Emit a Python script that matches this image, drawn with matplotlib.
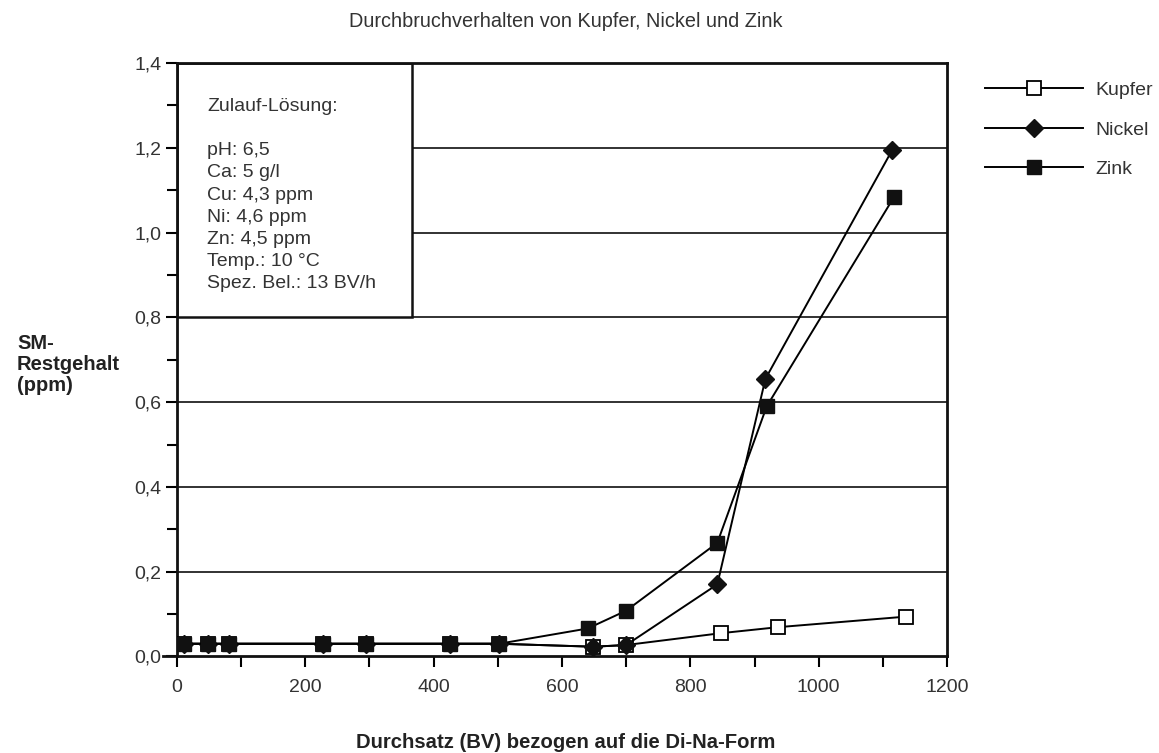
import matplotlib
matplotlib.use('Agg')
from matplotlib import pyplot as plt
from matplotlib.patches import Rectangle
import matplotlib.ticker as mticker

plt.rcParams['font.family'] = ['Liberation Sans', 'DejaVu Sans']

# data
kupfer_x = [11, 48, 81, 227, 294, 426, 502, 649, 700, 848, 936, 1136]
kupfer_y = [0.03, 0.03, 0.03, 0.03, 0.03, 0.03, 0.03, 0.023, 0.027, 0.055, 0.069, 0.094]
nickel_x = [11, 48, 81, 227, 294, 426, 502, 649, 700, 842, 917, 1115]
nickel_y = [0.03, 0.03, 0.03, 0.03, 0.03, 0.03, 0.03, 0.023, 0.027, 0.17, 0.655, 1.196]
zink_x = [11, 48, 81, 227, 294, 426, 502, 640, 700, 842, 919, 1117]
zink_y = [0.03, 0.03, 0.03, 0.03, 0.03, 0.03, 0.03, 0.066, 0.108, 0.268, 0.59, 1.083]

box_lines = ['Zulauf-Lösung:', '', 'pH: 6,5', 'Ca: 5 g/l', 'Cu: 4,3 ppm', 'Ni: 4,6 ppm',
             'Zn: 4,5 ppm', 'Temp.: 10 °C', 'Spez. Bel.: 13 BV/h']

title = 'Durchbruchverhalten von Kupfer, Nickel und Zink'
xlabel = 'Durchsatz (BV) bezogen auf die Di-Na-Form'
ylabel = 'SM-\nRestgehalt\n(ppm)'


def main():
    fig = plt.figure(figsize=(11.59, 7.53), dpi=100)
    ax = fig.add_axes([0.1527, 0.1282, 0.6644, 0.788])

    ax.set_xlim(0, 1200)
    ax.set_ylim(0, 1.4)

    # horizontal grid
    for g in [0.2, 0.4, 0.6, 0.8, 1.0, 1.2]:
        ax.axhline(g, color='#222222', linewidth=1.3, zorder=1)

    # info box
    box = Rectangle((0, 0.8), 366, 0.6, facecolor='white', edgecolor='#111111',
                    linewidth=1.8, zorder=2)
    ax.add_patch(box)
    ax.text(47, 1.318, '\n'.join(box_lines), fontsize=14, color='#333333',
            va='top', ha='left', linespacing=1.40, zorder=3)

    lw = 1.4
    ax.plot(kupfer_x, kupfer_y, color='black', linewidth=lw, marker='s', markersize=9.5,
            markerfacecolor='white', markeredgecolor='black', markeredgewidth=1.3,
            label='Kupfer', zorder=4)
    ax.plot(nickel_x, nickel_y, color='black', linewidth=lw, marker='D', markersize=9.5,
            markerfacecolor='#111111', markeredgecolor='#111111', label='Nickel', zorder=5)
    ax.plot(zink_x, zink_y, color='black', linewidth=lw, marker='s', markersize=9.5,
            markerfacecolor='#111111', markeredgecolor='#111111', label='Zink', zorder=6)

    for s in ax.spines.values():
        s.set_linewidth(2)
        s.set_color('#111111')
    ax.spines['bottom'].set_bounds(-22, 1200)

    ax.xaxis.set_major_locator(mticker.MultipleLocator(200))
    ax.xaxis.set_minor_locator(mticker.MultipleLocator(100))
    ax.yaxis.set_major_locator(mticker.MultipleLocator(0.2))
    ax.yaxis.set_minor_locator(mticker.MultipleLocator(0.1))
    ax.yaxis.set_major_formatter(mticker.FuncFormatter(lambda v, p: f'{v:.1f}'.replace('.', ',')))
    ax.tick_params(axis='both', which='both', direction='out', width=1.5,
                   labelsize=14, labelcolor='#333333')
    ax.tick_params(axis='y', which='major', length=8, pad=3)
    ax.tick_params(axis='y', which='minor', length=7)
    ax.tick_params(axis='x', which='both', length=8, pad=8)

    fig.text(0.4884, 0.972, title, ha='center', va='center', fontsize=14.3, color='#333333')
    fig.text(0.4884, 0.0146, xlabel, ha='center', va='center', fontsize=14.6, fontweight='bold',
             color='#222222')
    fig.text(0.0147, 0.516, ylabel, ha='left', va='center', fontsize=14.5, fontweight='bold',
             color='#222222', linespacing=1.16)

    leg = fig.legend(loc='upper left', bbox_to_anchor=(0.85, 0.892), frameon=False,
                     borderaxespad=0, borderpad=0, handlelength=5.05, labelspacing=1.13,
                     fontsize=14, handletextpad=0.6)
    for t in leg.get_texts():
        t.set_color('#333333')

    fig.savefig('out.png', dpi=100)
    plt.close(fig)


if __name__ == '__main__':
    main()
